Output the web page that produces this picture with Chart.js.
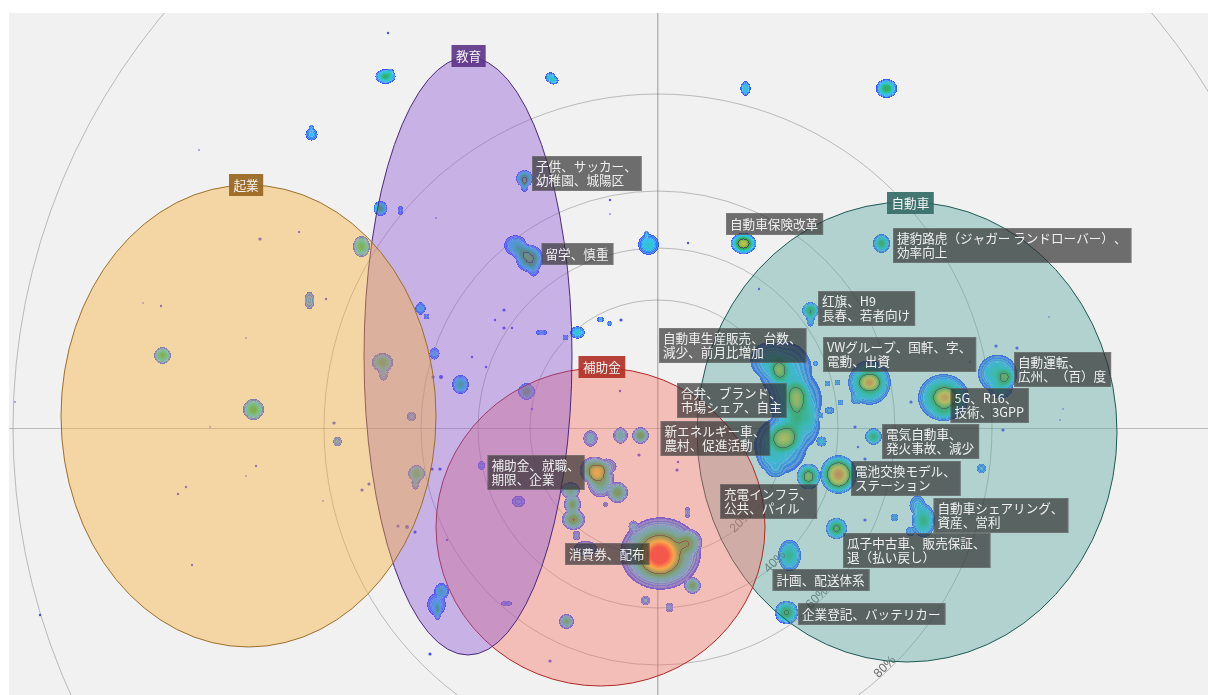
<!DOCTYPE html>
<html>
<head>
<meta charset="utf-8">
<style>
  html, body { margin: 0; padding: 0; background: #fff; overflow: hidden; }
  canvas { display: block; }
</style>
<script src="https://cdn.jsdelivr.net/npm/chart.js@4/dist/chart.umd.js"></script>
</head>
<body>
<canvas id="map" width="1208" height="695"></canvas>
<script>
// all values, in the map's own x / y units
var ringCenter = [658, 428];
var ringRadius = [128, 180, 237, 334, 645];

var percentText = ['20%', '40%', '60%', '80%'];
var percentX = [741, 775, 817, 885];
var percentY = [522, 562, 598, 667];

var topicNames = ['自動車', '補助金', '教育', '起業'];
var topicX = [907, 600.5, 468, 248.5];
var topicY = [432, 527, 356, 416];
var topicRx = [210, 164.5, 104, 187.5];
var topicRy = [230, 159, 299, 231];
var topicBoxX = [887, 578.5, 451.5, 229];
var topicBoxY = [192, 356, 45, 174];

var noteLines = [
  ['子供、サッカー、', '幼稚園、城陽区'],
  ['留学、慎重'],
  ['自動車保険改革'],
  ['捷豹路虎（ジャガー ランドローバー）、', '効率向上'],
  ['红旗、H9', '長春、若者向け'],
  ['自動車生産販売、台数、', '減少、前月比増加'],
  ['VWグループ、国軒、字、', '電動、出資'],
  ['自動運転、', '広州、（百）度'],
  ['5G、R16、', '技術、3GPP'],
  ['合弁、ブランド、', '市場シェア、自主'],
  ['新エネルギー車、', '農村、促進活動'],
  ['電気自動車、', '発火事故、減少'],
  ['電池交換モデル、', 'ステーション'],
  ['充電インフラ、', '公共、パイル'],
  ['自動車シェアリング、', '資産、営利'],
  ['瓜子中古車、販売保証、', '退（払い戻し）'],
  ['計画、配送体系'],
  ['企業登記、バッテリカー'],
  ['補助金、就職、', '期限、企業'],
  ['消費券、配布']
];
var noteX = [532, 541.5, 726, 893, 818, 659, 823, 1014, 950.5, 677, 660.5, 882, 851, 720, 933.5, 843, 772.5, 798, 487.5, 565];
var noteY = [156, 243, 213, 228, 291, 328, 337, 352, 388, 383, 421, 424, 461, 484, 498, 533, 569, 603, 455, 543];

// density peaks: x, y, reach in x, reach in y, height
var heatPeaks = [
  [385,76,9.5,7,.3], [390,72,4,4,.08], [550,77,5,5,.15], [553,80,5,4,.12], [311,128,3,4,.07], [311,134,6,6,.1],
  [745,88,5,7,.17], [886,88,10,9,.33], [524,178,8,8,.38], [524,184,4,7,.2], [380,208,6.5,7,.33],
  [400,210,3,5,.05], [361,246,8,10,.3], [309,300,5,9,.07],
  [515,245,11,10,.18], [521,251,10,9,.18], [529,258,13,13,.42], [533,268,6,8,.1],
  [648,244,10,10,.17], [646,234,3,4,.08], [420,308,5,6,.15], [426,316,3,3,.06], [434,353,5,6,.1],
  [460,384,8,9,.25], [526,391,8,8,.33], [577,332,7,6,.15], [565,337,3,3,.06], [541,332,6,3,.06],
  [600,319,4,3,.06], [609,323,3,2.5,.06], [382,362,10,9,.32], [383,372,5,8,.1],
  [162,355,8,8,.3], [253,409,10,10,.32], [411,416,4.5,5,.08], [337,441,4.5,5,.06],
  [416,473,8,8,.3], [415,482,4,7,.1], [441,591,7,8,.22], [436,604,9,11,.13], [437,610,4,9,.2],
  [594,470,14,13,.46], [600,479,13,17,.3], [606,466,10,8,.1], [617,492,10,10,.33],
  [572,504,8,10,.3], [573,519,11,10,.36], [570,490,9,8,.25], [576,535,4,5,.06],
  [590,438,7,8,.12], [620,435,7,8,.18], [640,435,8,8,.33],
  [659,555,24,24,.5], [659,555,16,16,.3], [660,553,38,34,.45], [688,542,13,13,.25], [692,585,8,8,.3], [633,526,5,6,.1], [633,537,4,3,.07],
  [645,600,5,5,.08], [669,607,4,5,.08], [566,621,7,7,.27], [687,512,3,6,.06], [585,548,12,8,.06],
  [518,501,7,6,.05], [481,465,3.5,5,.05], [506,603,6,3,.04], [605,504,3,3,.04],
  [779,370,11,14,.38], [796,397,14,18,.42], [798,412,14,14,.08], [797,423,14,14,.08], [783,438,18,16,.45],
  [785,370,26,28,.125], [795,400,26,30,.125], [795,425,24,25,.125], [780,445,26,28,.125],
  [768,360,18,18,.1], [810,415,8,20,.1], [772,458,15,14,.06], [775,470,10,7,.05],
  [808,476,11,12,.5], [838,474,17,18,.85], [869,382,13,10,.4], [869,382,20,21,.4], [856,398,6,6,.08],
  [945,397,14,12,.35], [943,397,24,22,.42], [943,412,12,8,.1], [1005,377,10,10,.3], [997,373,19,18,.2], [1000,388,12,10,.12],
  [873,436,8,8,.3], [821,441,5,5,.12], [981,468,5,5,.08],
  [923,520,11,16,.28], [917,505,8,10,.1], [910,531,5,5,.06], [894,517,4,4,.07],
  [836,528,10,10,.42], [789,555,11,15,.25], [786,612,11,11,.38], [881,243,8,9,.32],
  [743,243,12,10,.55], [810,310,8,8,.35], [810,318,4,8,.12],
  [815,363,2.5,2.5,.07], [827,383,3,3,.06], [837,382,3,3,.07], [840,402,3,3,.07], [829,410,5,4,.05], [820,415,3,3,.05]
];

// tiny isolated specks
var speckX = [388,199,260,299,143,161,326,246,436,504,495,504,512,472,486,433,441,610,610,620,532,15,40,334,210,256,246,186,178,362,369,323,192,398,415,407,430,550,432,440,447,639,678,677,1003,1063,1060,911,855,858,865,865,1017,996,970,688,759,1049,621];
var speckY = [33,150,239,232,303,306,299,338,218,310,320,328,328,357,367,377,377,200,214,391,409,402,615,423,427,466,476,487,494,490,484,501,565,526,532,527,654,661,469,469,540,455,462,470,430,409,420,402,427,447,459,520,348,346,362,243,289,317,320];
var speckR = [1.2,.8,1.6,1.2,.8,1.2,1.2,.8,.8,1.6,1.2,1.6,1.2,1.2,1.2,1.6,2,1.2,.8,1.2,1.2,.8,1.2,1.6,.8,1.2,.8,1.2,1.2,1.6,1.6,.8,1.2,1.6,1.6,2,1.6,1.6,1.6,1.6,1.2,1.6,1.2,1.6,1.6,.8,.8,1.6,1.6,1.2,1.6,1.6,1.6,1.6,.8,1.2,1.2,.8,1.6];

var cmapStops = [0, .04, .1, .2, .30, .38, .5, .65, .8, 1];
var cmapColors = [[40,70,255],[30,120,255],[40,190,245],[30,195,175],[35,170,90],[60,165,70],[160,185,60],[245,200,50],[250,140,40],[240,60,50]];
var topicFill = ['rgba(84,164,159,.4)', 'rgba(251,114,101,.4)', 'rgba(138,83,213,.4)', 'rgba(251,176,49,.4)'];
var topicLine = ['#1f5a55', '#b0282a', '#4a2a7a', '#9c6f2e'];
var topicBox = ['rgba(50,105,100,.9)', 'rgba(175,45,35,.9)', 'rgba(90,50,135,.9)', 'rgba(155,105,35,.95)'];
var outlineLevel = .35;
var heatReach = 1.12;

function cmap(f) {
  var i = 0;
  if (f >= 1) return cmapColors[cmapColors.length - 1];
  while (cmapStops[i + 1] < f) i++;
  var t = (f - cmapStops[i]) / (cmapStops[i + 1] - cmapStops[i]);
  var a = cmapColors[i], b = cmapColors[i + 1];
  return [a[0] + (b[0] - a[0]) * t, a[1] + (b[1] - a[1]) * t, a[2] + (b[2] - a[2]) * t];
}

function drawHeat(chart) {
  var sx = chart.scales.x, sy = chart.scales.y;
  var w = chart.width, h = chart.height;
  var field = new Float32Array(w * h);
  heatPeaks.forEach(function (p) {
    var cx = sx.getPixelForValue(p[0]), cy = sy.getPixelForValue(p[1]);
    var rx = Math.abs(sx.getPixelForValue(p[0] + p[2]) - cx) * heatReach;
    var ry = Math.abs(sy.getPixelForValue(p[1] + p[3]) - cy) * heatReach;
    for (var y = Math.max(0, Math.floor(cy - ry)); y <= Math.min(h - 1, Math.ceil(cy + ry)); y++) {
      for (var x = Math.max(0, Math.floor(cx - rx)); x <= Math.min(w - 1, Math.ceil(cx + rx)); x++) {
        var d = (x - cx) * (x - cx) / (rx * rx) + (y - cy) * (y - cy) / (ry * ry);
        if (d < 1) field[y * w + x] += p[4] * (1 - d) * (1 - d);
      }
    }
  });
  var off = document.createElement('canvas');
  off.width = w; off.height = h;
  var oc = off.getContext('2d');
  var img = oc.createImageData(w, h);
  for (var y = 1; y < h - 1; y++) {
    for (var x = 1; x < w - 1; x++) {
      var k = y * w + x, f = field[k];
      if (f < .004) continue;
      var c = cmap(f), alpha = 240;
      // the low contours look like ripples at the rim of the big blobs
      if (f < .1 && Math.floor(f / .014) % 2 === 1) alpha = 170;
      if (f >= outlineLevel && (field[k - 1] < outlineLevel || field[k + 1] < outlineLevel || field[k - w] < outlineLevel || field[k + w] < outlineLevel)) {
        c = [45, 60, 55]; alpha = 225;
      }
      var o = k * 4;
      img.data[o] = c[0]; img.data[o + 1] = c[1]; img.data[o + 2] = c[2]; img.data[o + 3] = alpha;
    }
  }
  oc.putImageData(img, 0, 0);
  var ctx = chart.ctx;
  ctx.save();
  ctx.filter = 'blur(0.5px)';
  ctx.drawImage(off, 0, 0);
  ctx.restore();
}

// one glyph at a time, the reference keeps full width punctuation untrimmed
function lineWidth(ctx, text) {
  var w = 0;
  Array.from(text).forEach(function (ch) { w += ctx.measureText(ch).width; });
  return w;
}
function fillLine(ctx, text, x, y) {
  Array.from(text).forEach(function (ch) {
    ctx.fillText(ch, x, y);
    x += ctx.measureText(ch).width;
  });
}

var mapPlugin = {
  id: 'mapLayers',
  beforeDraw: function (chart) {
    var a = chart.chartArea, ctx = chart.ctx;
    ctx.save();
    ctx.fillStyle = '#f1f1f1';
    ctx.fillRect(a.left, a.top, a.right - a.left, a.bottom - a.top);
    ctx.restore();
  },
  beforeDatasetsDraw: function (chart) {
    var a = chart.chartArea, ctx = chart.ctx, sx = chart.scales.x, sy = chart.scales.y;
    var ux = Math.abs(sx.getPixelForValue(1) - sx.getPixelForValue(0));
    ctx.save();
    ctx.beginPath();
    ctx.rect(a.left, a.top, a.right - a.left, a.bottom - a.top);
    ctx.clip();
    ringRadius.forEach(function (r, i) {
      ctx.beginPath();
      ctx.arc(sx.getPixelForValue(ringCenter[0]), sy.getPixelForValue(ringCenter[1]), r * ux, 0, Math.PI * 2);
      ctx.lineWidth = .7;
      ctx.strokeStyle = 'rgba(80,80,80,.5)';
      ctx.stroke();
    });
    drawHeat(chart);
    ctx.restore();
  },
  afterDatasetsDraw: function (chart) {
    var a = chart.chartArea, ctx = chart.ctx, sx = chart.scales.x, sy = chart.scales.y;
    var ux = Math.abs(sx.getPixelForValue(1) - sx.getPixelForValue(0));
    var uy = Math.abs(sy.getPixelForValue(1) - sy.getPixelForValue(0));
    ctx.save();
    ctx.beginPath();
    ctx.rect(a.left, a.top, a.right - a.left, a.bottom - a.top);
    ctx.clip();
    // ring percentages
    ctx.font = '12.5px "Liberation Sans", sans-serif';
    ctx.fillStyle = 'rgba(95,95,95,.9)';
    ctx.textAlign = 'center';
    ctx.textBaseline = 'middle';
    percentText.forEach(function (t, i) {
      ctx.save();
      ctx.translate(sx.getPixelForValue(percentX[i]), sy.getPixelForValue(percentY[i]));
      ctx.rotate(-Math.PI / 4);
      ctx.fillText(t, 0, 0);
      ctx.restore();
    });
    // topic ellipses, bottom to top
    topicNames.forEach(function (name, i) {
      ctx.beginPath();
      ctx.ellipse(sx.getPixelForValue(topicX[i]), sy.getPixelForValue(topicY[i]), topicRx[i] * ux, topicRy[i] * uy, 0, 0, Math.PI * 2);
      ctx.fillStyle = topicFill[i];
      ctx.fill();
      ctx.lineWidth = 1;
      ctx.strokeStyle = topicLine[i];
      ctx.stroke();
    });
    ctx.font = '12.6px "Noto Sans CJK JP", sans-serif';
    // note boxes
    ctx.textAlign = 'left';
    noteLines.forEach(function (lines, i) {
      var x = sx.getPixelForValue(noteX[i]), y = sy.getPixelForValue(noteY[i]);
      var w = 0;
      lines.forEach(function (l) { w = Math.max(w, lineWidth(ctx, l)); });
      var h = lines.length === 1 ? 22 : 35;
      ctx.fillStyle = 'rgba(45,45,45,.68)';
      ctx.fillRect(x, y, w + 9, h);
      ctx.strokeStyle = 'rgba(150,150,150,.35)';
      ctx.lineWidth = 1;
      ctx.strokeRect(x + .5, y + .5, w + 8, h - 1);
      ctx.fillStyle = '#f0f0f0';
      lines.forEach(function (l, n) {
        fillLine(ctx, l, x + 4, y + (lines.length === 1 ? 11 : 10.5 + n * 13.7));
      });
    });
    // topic name tags
    ctx.textAlign = 'center';
    topicNames.forEach(function (name, i) {
      var x = sx.getPixelForValue(topicBoxX[i]), y = sy.getPixelForValue(topicBoxY[i]);
      var w = ctx.measureText(name).width + 9;
      ctx.fillStyle = topicBox[i];
      ctx.fillRect(x, y, w, 22);
      ctx.fillStyle = '#f5f5f5';
      ctx.fillText(name, x + w / 2, y + 11);
    });
    ctx.restore();
  }
};

new Chart(document.getElementById('map'), {
  type: 'bubble',
  data: {
    datasets: [{
      label: 'specks',
      data: speckX.map(function (x, i) { return { x: x, y: speckY[i], r: speckR[i] }; }),
      backgroundColor: 'rgba(50,50,240,.85)',
      borderWidth: 0
    }]
  },
  options: {
    responsive: false,
    animation: false,
    layout: { autoPadding: false, padding: { left: 9, top: 13, right: 0, bottom: 0 } },
    plugins: { legend: { display: false }, tooltip: { enabled: false } },
    scales: {
      x: {
        type: 'linear', min: 9, max: 1208,
        afterBuildTicks: function (s) { s.ticks = [{ value: ringCenter[0] }]; },
        ticks: { display: false },
        border: { display: false },
        grid: { color: 'rgba(110,110,110,.45)', lineWidth: 1.5, drawTicks: false }
      },
      y: {
        type: 'linear', min: 13, max: 695, reverse: true,
        afterBuildTicks: function (s) { s.ticks = [{ value: ringCenter[1] }]; },
        ticks: { display: false },
        border: { display: false },
        grid: { color: 'rgba(110,110,110,.4)', lineWidth: 1, drawTicks: false }
      }
    }
  },
  plugins: [mapPlugin]
});
</script>
</body>
</html>
